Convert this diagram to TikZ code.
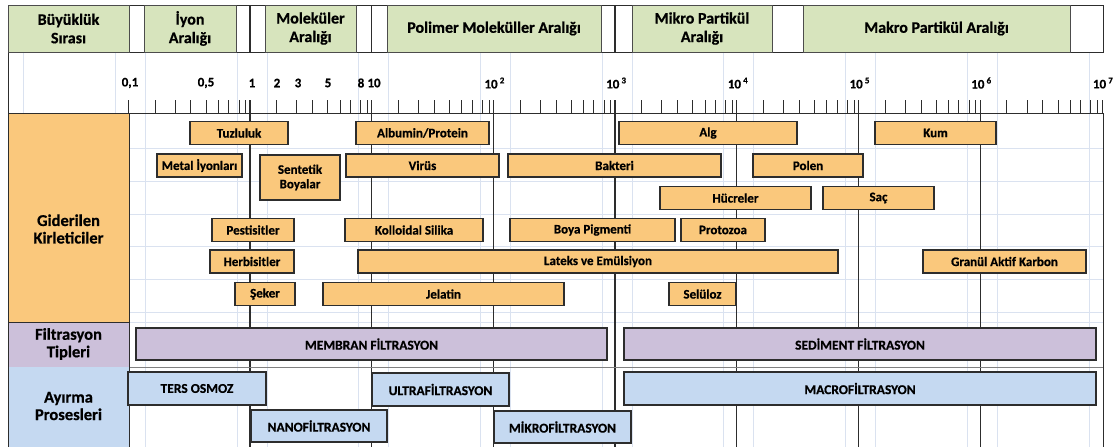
\documentclass[tikz,border=0pt]{standalone}
\usepackage{fontspec}
\setmainfont{Carlito}[BoldFeatures={FakeBold=0.6}]
\definecolor{baslikyesil}{RGB}{215,228,189}
\definecolor{kirturuncu}{RGB}{250,200,124}
\definecolor{filtremor}{RGB}{204,192,218}
\definecolor{ayirmamavi}{RGB}{197,217,241}
\definecolor{izgararenk}{RGB}{218,226,240}
\definecolor{cizgi}{RGB}{45,45,45}

\begin{document}
\begin{tikzpicture}[
        x=1pt, y=-1pt,
        kutu/.style={
            draw=cizgi,
            line width=1.3pt,
            inner sep=0pt,
            align=center,
            font=\bfseries\fontsize{13}{14.5}\selectfont
        },
        kirkutu/.style={kutu, fill=kirturuncu, minimum height=23pt},
        filkutu/.style={kutu, fill=filtremor, minimum height=32pt,
            font=\bfseries\fontsize{13.5}{14}\selectfont},
        aykutu/.style={kutu, fill=ayirmamavi, minimum height=33pt,
            font=\bfseries\fontsize{13.5}{14}\selectfont},
        baslik/.style={
            draw=cizgi!85,
            line width=1pt,
            fill=baslikyesil,
            minimum height=47pt,
            inner sep=0pt,
            align=center,
            font=\bfseries\fontsize{16}{18.5}\selectfont
        },
        solkutu/.style={draw=cizgi, line width=1pt, minimum width=121pt, inner sep=0pt},
        soletiket/.style={align=center, font=\bfseries\fontsize{16.5}{17.5}\selectfont},
        eksen/.style={inner sep=0pt, font=\bfseries\fontsize{13}{15}\selectfont},
        izgara/.style={draw=izgararenk, line width=0.8pt},
        onlu/.style={draw=cizgi, line width=1.3pt},
        tik/.style={draw=cizgi, line width=1pt}
    ]
    \useasboundingbox (0,0) rectangle (1115,447);

    % faint paper grid
    \draw[izgara] (23,52) -- (23,447);
    \foreach \d in {0,...,8} {
        \draw[izgara] ({128.3+121.7*\d-13},52) -- ++(0,395);
        \draw[izgara] ({128.3+121.7*\d+17},52) -- ++(0,395);
    }
    \foreach \y in {148,181,214,246,279,312,322}
        \draw[izgara] (129,\y) -- (1103,\y);

    % decade lines
    \foreach \d in {1,...,7} {
        \draw[onlu] ({128.3+121.7*\d},5) -- ++(0,47);
        \draw[onlu] ({128.3+121.7*\d},100) -- (128.3+121.7*\d,447);
    }
    \draw[cizgi, line width=2.6pt] ({128.3+121.7*4},5) -- ++(0,47);
    \draw[cizgi, line width=2.6pt] ({128.3+121.7*4},100) -- (128.3+121.7*4,447);

    % frame
    \draw[cizgi, line width=1pt] (8,5) rectangle (1103,52);
    \draw[cizgi, line width=1pt] (8,52) -- (8,113);
    \draw[cizgi, line width=1pt] (128.3,113) -- (1103,113) -- (1103,447);
    \draw[gray, line width=1pt] (129,367) -- (1103,367);

    % scale ticks
    \foreach \d in {0,...,7}
        \foreach \f in {0.22,0.385,0.515,0.64,0.74,0.825,0.91,0.965}
            \draw[tik] ({128.3+121.7*(\d+\f)},100) -- ++(0,13);
    \draw[tik] (128.3,100) -- ++(0,13);
    \draw[tik] (1102,100) -- ++(0,13);

    \node[eksen] (e01) at (130,83) {0,1};
    \node[eksen] (e05) at (206,83) {0,5};
    \node[eksen] (e1) at (252,83) {1};
    \node[eksen] (e2) at (277,83) {2};
    \node[eksen] (e3) at (298,83) {3};
    \node[eksen] (e5) at (328,83) {5};
    \node[eksen] (e8) at (361,83) {8};
    \node[eksen] (e10) at (374,83) {10};
    \foreach \d/\u in {3/2,4/3,5/4,6/5,7/6,8/7}
        \node[eksen] (us\u) at ({128.3+121.7*\d+1},83)
            {10\,\raisebox{5pt}{\fontsize{9}{9}\selectfont\u}};

    % header row
    \node[baslik, minimum width=121pt] (buyukluk) at (68.5,28.5) {Büyüklük\\Sırası};
    \node[baslik, minimum width=92pt] (iyon) at (190,28.5) {İyon\\Aralığı};
    \node[baslik, minimum width=91pt] (molekul) at (310.5,28.5) {Moleküler\\Aralığı};
    \node[baslik, minimum width=214pt] (polimer) at (494,28.5) {Polimer Moleküller Aralığı};
    \node[baslik, minimum width=140pt] (mikropar) at (702,28.5) {Mikro Partikül\\Aralığı};
    \node[baslik, minimum width=267pt] (makropar) at (936.5,28.5) {Makro Partikül Aralığı};

    % left column
    \node[solkutu, fill=kirturuncu, minimum height=209pt] (kir) at (68.5,217.5) {};
    \node[solkutu, fill=filtremor, minimum height=45pt] (fil) at (68.5,344.5) {};
    \fill[ayirmamavi] (8,367) rectangle (129,447);
    \draw[cizgi, line width=1pt] (8,367) -- (8,447) (129,367) -- (129,447);
    \node[soletiket] (kiryazi) at (68.5,229) {Giderilen\\Kirleticiler};
    \node[soletiket] (filyazi) at (68.5,344) {Filtrasyon\\Tipleri};
    \node[soletiket] (ayyazi) at (68.5,406) {Ayırma\\Prosesleri};

    % removed pollutants
    \node[kirkutu, minimum width=98pt] (tuz) at (239,133) {Tuzluluk};
    \node[kirkutu, minimum width=133pt] (albumin) at (422.5,133) {Albumin/Protein};
    \node[kirkutu, minimum width=178pt] (alg) at (708,133) {Alg};
    \node[kirkutu, minimum width=121pt] (kum) at (935.5,133) {Kum};

    \node[kirkutu, minimum width=85pt] (metal) at (199.5,165.5) {Metal İyonları};
    \node[kirkutu, minimum width=80pt, minimum height=45pt] (sentetik) at (300,177.5) {Sentetik\\Boyalar};
    \node[kirkutu, minimum width=153pt] (virus) at (422.5,165.5) {Virüs};
    \node[kirkutu, minimum width=213pt] (bakteri) at (614.5,165.5) {Bakteri};
    \node[kirkutu, minimum width=110pt] (polen) at (808,165.5) {Polen};

    \node[kirkutu, minimum width=151pt] (hucre) at (735.5,198) {Hücreler};
    \node[kirkutu, minimum width=111pt] (sac) at (878.5,198) {Saç};

    \node[kirkutu, minimum width=82pt] (pest) at (253,230) {Pestisitler};
    \node[kirkutu, minimum width=138pt] (kolloid) at (414,230) {Kolloidal Silika};
    \node[kirkutu, minimum width=165pt] (boya) at (592.5,230) {Boya Pigmenti};
    \node[kirkutu, minimum width=84pt] (proto) at (723,230) {Protozoa};

    \node[kirkutu, minimum width=84pt] (herb) at (252,261.5) {Herbisitler};
    \node[kirkutu, minimum width=480pt] (lateks) at (598,261.5) {Lateks ve Emülsiyon};
    \node[kirkutu, minimum width=163pt] (granul) at (1004.5,261.5) {Granül Aktif Karbon};

    \node[kirkutu, minimum width=60pt] (seker) at (265,294) {Şeker};
    \node[kirkutu, minimum width=241pt] (jelatin) at (443.5,294) {Jelatin};
    \node[kirkutu, minimum width=67pt] (seluloz) at (702.5,294) {Selüloz};

    % filtration types
    \node[filkutu, minimum width=471pt] (membran) at (371.5,344) {MEMBRAN FİLTRASYON};
    \node[filkutu, minimum width=472pt] (sediment) at (860,344) {SEDİMENT FİLTRASYON};

    % separation processes
    \node[aykutu, minimum width=138pt] (ters) at (197,388.5) {TERS OSMOZ};
    \node[aykutu, minimum width=137pt] (ultra) at (440.5,389.5) {ULTRAFİLTRASYON};
    \node[aykutu, minimum width=472pt] (macro) at (860,388.5) {MACROFİLTRASYON};
    \node[aykutu, minimum width=136pt, minimum height=32pt] (nano) at (319,426) {NANOFİLTRASYON};
    \node[aykutu, minimum width=137pt, minimum height=32pt] (mikro) at (562.5,427) {MİKROFİLTRASYON};

\end{tikzpicture}
\end{document}
